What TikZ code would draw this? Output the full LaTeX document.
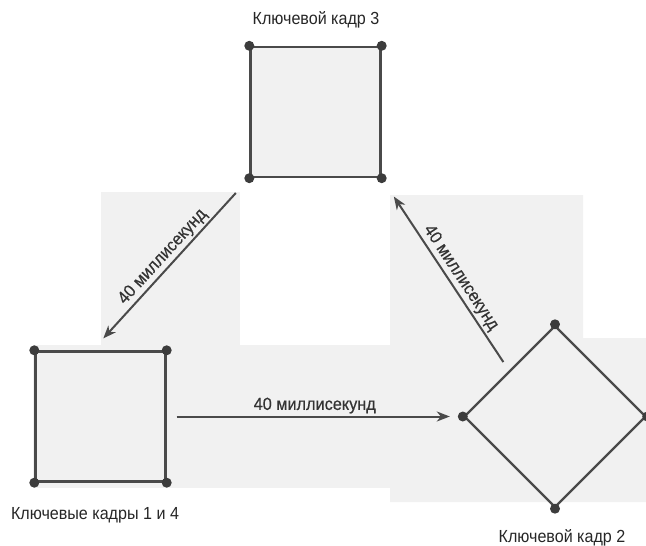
\documentclass[tikz,border=0pt]{standalone}
\usepackage{fontspec}
\setmainfont{Liberation Sans}
\newfontfamily\capfont[FakeStretch=0.92]{Liberation Sans}
\newfontfamily\lblfont[FakeStretch=0.93,FakeBold=0.4]{Liberation Sans}
\usetikzlibrary{arrows.meta,shapes.geometric}
\definecolor{ink}{HTML}{4A4A4A}
\definecolor{dotc}{HTML}{3C3C3C}
\definecolor{patch}{HTML}{F1F1F1}
\begin{document}
\begin{tikzpicture}[x=1pt,y=-1pt,
  frame/.style={draw=ink,line width=2.4pt,fill=patch,inner sep=0pt,minimum size=130pt},
  diam/.style={diamond,draw=ink,line width=2.4pt,fill=patch,inner sep=0pt,aspect=1,minimum width=182pt,minimum height=182pt},
  vdot/.style={fill=dotc},
  captxt/.style={font=\capfont\fontsize{17.5}{20}\selectfont,inner sep=0pt,text=black!85},
  lbl/.style={font=\lblfont\fontsize{17.5}{20}\selectfont,inner sep=2pt,text=black!80},
  conn/.style={draw=ink,line width=2pt,-{Stealth[length=13pt,width=10pt,inset=4pt]}}]
\useasboundingbox (0,0) rectangle (646,546);
% faint scan patches
\fill[patch] (101,192) rectangle (240,345);
\fill[patch] (33,345) rectangle (460,488);
\fill[patch] (390,195) -- (583,195) -- (583,338) -- (646,338) -- (646,502) -- (390,502) -- cycle;
% key frames
\node[frame] (k3) at (315.5,112) {};
\node[frame] (k1) at (100.5,416.5) {};
\node[diam] (k2) at (555,416.5) {};
\foreach \a in {north west,north east,south west,south east}{
  \fill[vdot] (k3.\a) circle (5pt);
  \fill[vdot] (k1.\a) circle (5pt);
}
\foreach \a in {north,south,east,west}{
  \fill[vdot] (k2.\a) circle (5pt);
}
% captions
\node[captxt] (c3) at (316,20) {Ключевой кадр 3};
\node[captxt] (c1) at (95,515) {Ключевые кадры 1 и 4};
\node[captxt] (c2) at (562,538) {Ключевой кадр 2};
% connectors
\draw[conn,shorten <=10pt,shorten >=13pt] (k1.east) -- node[lbl,above] {40 миллисекунд} (k2.west);
\draw[conn,shorten <=20pt,shorten >=16pt] (k3.south west) -- node[lbl,above,sloped,pos=0.5] {40 миллисекунд} ([xshift=-8pt]k1.north);
\draw[conn,shorten <=10pt,shorten >=22pt] (k2.north west) -- node[lbl,above,sloped,pos=0.45] {40 миллисекунд} (k3.south east);
\end{tikzpicture}
\end{document}
